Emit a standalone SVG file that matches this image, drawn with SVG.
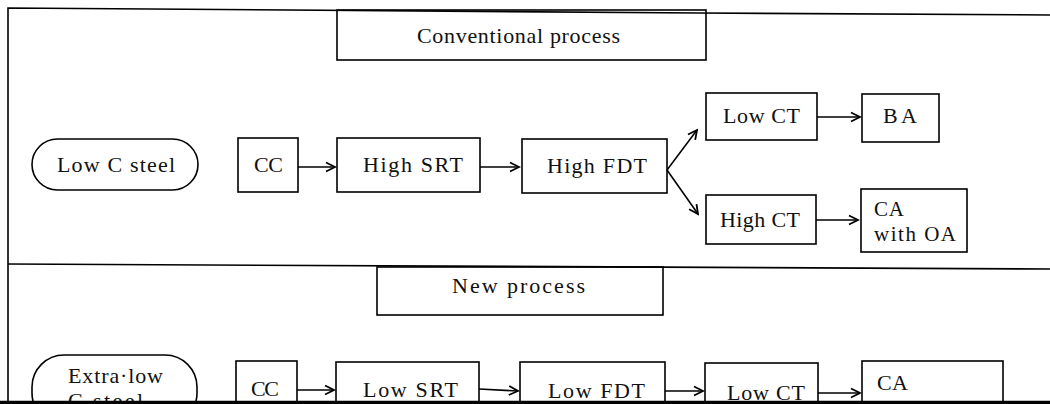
<svg xmlns="http://www.w3.org/2000/svg" width="1050" height="404" viewBox="0 0 1050 404">
<style>
.b{fill:none;stroke:#000;stroke-width:1.6}
.t{font-family:"Liberation Serif","Times New Roman",serif;font-size:22px;fill:#111}
.s{font-size:21px}
.c{stroke:#000;stroke-width:1.6;fill:none}
.a{stroke:#000;stroke-width:1.6;fill:none;marker-end:url(#ah)}
</style>
<defs>
<marker id="ah" markerWidth="12" markerHeight="12" refX="10" refY="6" orient="auto" markerUnits="userSpaceOnUse">
<path d="M1,1.5 L10,6 L1,10.5" fill="none" stroke="#000" stroke-width="1.8"/>
</marker>
<clipPath id="cut"><rect x="0" y="0" width="1050" height="401"/></clipPath>
</defs>
<rect width="1050" height="404" fill="#fff"/>

<g id="frame">
<polyline class="c" points="8,401 8,8 700,13 1050,15"/>
<line class="c" x1="8" y1="264" x2="1050" y2="269"/>
</g>

<g id="conventional-title">
<rect class="b" x="337" y="10" width="369" height="50"/>
<text class="t" x="417" y="43" textLength="203" lengthAdjust="spacing">Conventional process</text>
</g>
<g id="low-c-steel">
<rect class="b" x="32" y="139" width="166" height="51" rx="25.5"/>
<text class="t" x="57" y="172" textLength="118" lengthAdjust="spacing">Low C steel</text>
</g>
<g id="cc1">
<rect class="b" x="238" y="138" width="60" height="54"/>
<text class="t" x="254" y="172" textLength="29" lengthAdjust="spacing">CC</text>
</g>
<g id="high-srt">
<rect class="b" x="337" y="138" width="143" height="54"/>
<text class="t" x="363" y="172" textLength="100" lengthAdjust="spacing">High SRT</text>
</g>
<g id="high-fdt">
<rect class="b" x="522" y="139" width="145" height="54"/>
<text class="t" x="547" y="173" textLength="100" lengthAdjust="spacing">High FDT</text>
</g>
<g id="low-ct1">
<rect class="b" x="706" y="93" width="111" height="47"/>
<text class="t" x="723" y="123" textLength="77" lengthAdjust="spacing">Low CT</text>
</g>
<g id="ba">
<rect class="b" x="862" y="94" width="77" height="48"/>
<text class="t" x="883" y="123" textLength="34" lengthAdjust="spacing">BA</text>
</g>
<g id="high-ct">
<rect class="b" x="706" y="195" width="110" height="49"/>
<text class="t" x="720" y="227" textLength="80" lengthAdjust="spacing">High CT</text>
</g>
<g id="ca-oa">
<rect class="b" x="861" y="189" width="106" height="63"/>
<text class="t s" x="874" y="216" textLength="30" lengthAdjust="spacing">CA</text>
<text class="t s" x="874" y="241" textLength="82" lengthAdjust="spacing">with OA</text>
</g>

<g id="new-title">
<rect class="b" x="377" y="267" width="286" height="48"/>
<text class="t" x="452" y="293" textLength="133" lengthAdjust="spacing">New process</text>
</g>
<g id="extra-low" clip-path="url(#cut)">
<rect class="b" x="32" y="355" width="165" height="70" rx="32"/>
<text class="t" x="68" y="383" textLength="95" lengthAdjust="spacing">Extra·low</text>
<text class="t" x="68" y="408" textLength="75" lengthAdjust="spacing">C steel</text>
</g>
<g id="cc2" clip-path="url(#cut)">
<rect class="b" x="236" y="361" width="61" height="54"/>
<text class="t" x="251" y="396" textLength="28" lengthAdjust="spacing">CC</text>
</g>
<g id="low-srt" clip-path="url(#cut)">
<rect class="b" x="336" y="362" width="143" height="54"/>
<text class="t" x="363" y="397" textLength="95" lengthAdjust="spacing">Low SRT</text>
</g>
<g id="low-fdt" clip-path="url(#cut)">
<rect class="b" x="520" y="362" width="145" height="54"/>
<text class="t" x="548" y="398" textLength="97" lengthAdjust="spacing">Low FDT</text>
</g>
<g id="low-ct2" clip-path="url(#cut)">
<rect class="b" x="705" y="363" width="113" height="54"/>
<text class="t" x="727" y="400" textLength="78" lengthAdjust="spacing">Low CT</text>
</g>
<g id="ca" clip-path="url(#cut)">
<rect class="b" x="862" y="361" width="141" height="54"/>
<text class="t" x="877" y="390" textLength="31" lengthAdjust="spacing">CA</text>
</g>

<g id="connectors">
<line class="a" x1="298" y1="167" x2="335" y2="167"/>
<line class="a" x1="480" y1="167" x2="519" y2="167"/>
<line class="a" x1="667" y1="170" x2="697" y2="130"/>
<line class="a" x1="667" y1="170" x2="698" y2="214"/>
<line class="a" x1="817" y1="117" x2="860" y2="117"/>
<line class="a" x1="816" y1="220" x2="858" y2="220"/>
<line class="a" x1="297" y1="390" x2="334" y2="390"/>
<line class="a" x1="479" y1="389" x2="518" y2="391"/>
<line class="a" x1="665" y1="391" x2="703" y2="391"/>
<line class="a" x1="818" y1="393" x2="860" y2="393"/>
</g>

<line x1="0" y1="402.5" x2="1050" y2="402.5" stroke="#000" stroke-width="3.5"/>
</svg>
